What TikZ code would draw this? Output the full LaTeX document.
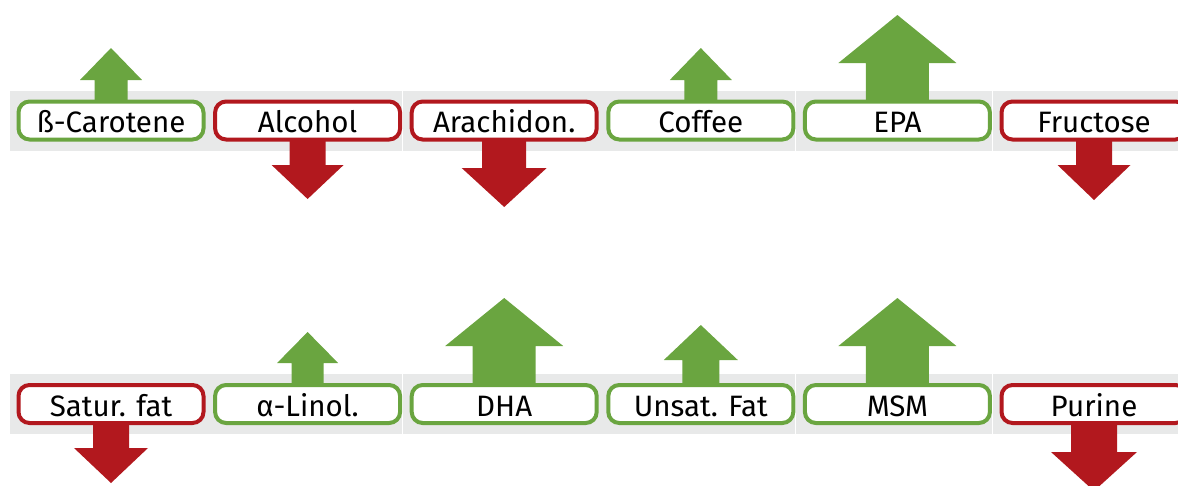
\documentclass[tikz,border=0pt]{standalone}
\usepackage{fontspec}
\setmainfont{Fira Sans}

\definecolor{upgreen}{RGB}{106,165,64}
\definecolor{downred}{RGB}{178,24,30}
\definecolor{stripgray}{RGB}{232,233,233}

\begin{document}
\begin{tikzpicture}[x=1pt, y=-1pt,
    box/.style={draw, fill=white, line width=4pt, rounded corners=11pt,
      minimum width=185pt, minimum height=38pt, inner sep=0pt,
      text height=24pt, text depth=0pt, font=\fontsize{29.5}{34}\selectfont},
    good/.style={box, draw=upgreen},
    bad/.style={box, draw=downred}]
  \useasboundingbox (0, 0) rectangle (1178, 485);

  % grey strips behind the boxes
  \foreach \row in {91, 374} {
    \foreach \i in {0,...,5} {
      \fill[stripgray] ({9.5 + 196.6*\i}, \row) rectangle ++(196, 60);
    }
  }

  \node[good] (carotene) at (111, 120.5) {ß-Carotene};
  \node[bad] (alcohol) at (307.6, 120.5) {Alcohol};
  \node[bad] (arachidon) at (504.2, 120.5) {Arachidon.};
  \node[good] (coffee) at (700.8, 120.5) {Coffee};
  \node[good] (epa) at (897.4, 120.5) {EPA};
  \node[bad] (fructose) at (1094, 120.5) {Fructose};

  \node[bad] (saturfat) at (111, 404) {Satur. fat};
  \node[good] (linol) at (307.6, 404) {α-Linol.};
  \node[good] (dha) at (504.2, 404) {DHA};
  \node[good] (unsatfat) at (700.8, 404) {Unsat. Fat};
  \node[good] (msm) at (897.4, 404) {MSM};
  \node[bad] (purine) at (1094, 404) {Purine};

  % block arrows: box/anchor/dir/shaft/head/shaft length/head length/colour
  \foreach \b/\a/\s/\w/\h/\l/\hl/\c in {%
      carotene/north/-1/16.5/31/19.5/32/upgreen,
      alcohol/south/1/18/36/23.5/34/downred,
      arachidon/south/1/22/42.5/26.5/39/downred,
      coffee/north/-1/16.5/31/19.5/32/upgreen,
      epa/north/-1/31.5/59/36.5/48/upgreen,
      fructose/south/1/18/36.5/23.5/35/downred,
      saturfat/south/1/18/37/23/35/downred,
      linol/north/-1/16/30.5/20/31/upgreen,
      dha/north/-1/31.5/59/37/48/upgreen,
      unsatfat/north/-1/18.5/37/23/35/upgreen,
      msm/north/-1/31.5/59/37/48/upgreen,
      purine/south/1/23/43/27/39/downred} {
    \fill[\c, shift={(\b.\a)}]
      ({-\w}, {-2*(\s)}) -- ({-\w}, {\s*\l}) -- ({-\h}, {\s*\l})
      -- (0, {\s*(\l+\hl)}) -- (\h, {\s*\l}) -- (\w, {\s*\l})
      -- (\w, {-2*(\s)}) -- cycle;
  }
\end{tikzpicture}
\end{document}
